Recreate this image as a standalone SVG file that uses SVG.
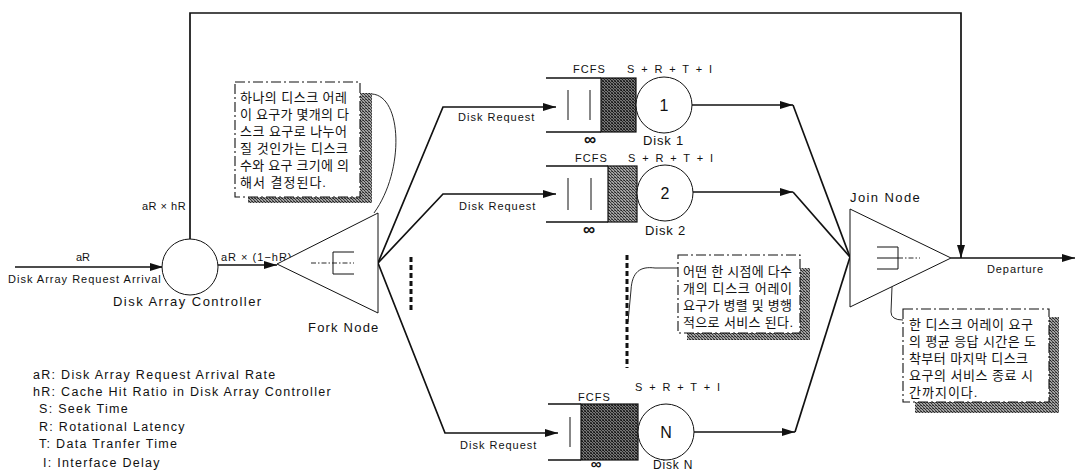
<svg xmlns="http://www.w3.org/2000/svg" width="1085" height="470" viewBox="0 0 1085 470">
<style>
text{font-family:"Liberation Sans",Arial,sans-serif;fill:#111}
.s{font-size:11px;letter-spacing:1px}
.m{font-size:13px;letter-spacing:1.3px}
.lg{font-size:12.5px;letter-spacing:1.3px}
.srt{font-size:11px;letter-spacing:1.9px}
.num{font-size:16px}
.inf{font-size:17px;font-weight:bold}
.ko{font-family:"Liberation Sans","Noto Sans CJK KR",sans-serif;font-size:13px;letter-spacing:1px}
.ln{fill:none;stroke:#111;stroke-width:1.7}
.thin{fill:none;stroke:#111;stroke-width:1}
.q{fill:none;stroke:#111;stroke-width:1.3}
.node{fill:#fff;stroke:#111;stroke-width:1}
.dd{fill:none;stroke:#111;stroke-width:0.9;stroke-dasharray:5 2 1.5 2}
.box{fill:#fff;stroke:#111;stroke-width:1.1;stroke-dasharray:10 3 2 3}
.dots{fill:none;stroke:#111;stroke-width:3;stroke-dasharray:5 3}
.call{fill:none;stroke:#111;stroke-width:0.9}
</style>
<defs>
<marker id="ah" markerWidth="13" markerHeight="8" refX="13" refY="4" orient="auto" markerUnits="userSpaceOnUse">
<path d="M0,0 L13,4 L0,8 Z" fill="#111"/>
</marker>
<pattern id="stip" width="3" height="3" patternUnits="userSpaceOnUse">
<rect width="3" height="3" fill="#a0a0a0"/>
<rect width="1" height="1" fill="#222"/>
<rect x="1" y="1" width="1" height="1" fill="#333"/>
<rect x="2" y="2" width="1" height="1" fill="#444"/>
<rect x="2" y="0" width="1" height="1" fill="#555"/>
</pattern>
<pattern id="stipd" width="3" height="3" patternUnits="userSpaceOnUse">
<rect width="3" height="3" fill="#777"/>
<rect width="1" height="1" fill="#111"/>
<rect x="1" y="1" width="1" height="1" fill="#222"/>
<rect x="2" y="2" width="1" height="1" fill="#222"/>
<rect x="2" y="0" width="1" height="1" fill="#333"/>
<rect x="0" y="2" width="1" height="1" fill="#444"/>
</pattern>
</defs>

<g id="connectors">
<path class="ln" d="M15 267 H163" marker-end="url(#ah)"/>
<path class="ln" d="M218 265 H277" marker-end="url(#ah)"/>
<path class="ln" d="M190 240 V13 H961 V258" marker-end="url(#ah)"/>
<path class="ln" d="M378 263 L443 107 H556" marker-end="url(#ah)"/>
<path class="ln" d="M378 263 L443 194 H556" marker-end="url(#ah)"/>
<path class="ln" d="M378 263 L445 433 H558" marker-end="url(#ah)"/>
<path class="ln" d="M692 105 H793" marker-end="url(#ah)"/>
<path class="ln" d="M793 105 L850 257"/>
<path class="ln" d="M693 192 H793" marker-end="url(#ah)"/>
<path class="ln" d="M793 192 L850 257"/>
<path class="ln" d="M694 432 H795" marker-end="url(#ah)"/>
<path class="ln" d="M795 432 L850 257"/>
<path class="ln" d="M951 258 H1075" marker-end="url(#ah)"/>
<path class="dots" d="M411 257 V313"/>
<path class="dots" d="M627 255 V368"/>
<path class="call" d="M372 94 C402 96 405 170 374 213"/>
<path class="call" d="M678 268 L655 268 C640 266 632 272 631 290 L628 322"/>
<path class="call" d="M892 287 L891 312 Q891 320 903 320"/>
</g>

<g id="labels">
<text class="s" x="76" y="261" style="letter-spacing:0">aR</text>
<text class="s" x="8" y="283">Disk Array Request Arrival</text>
<text class="s" x="142" y="210" style="letter-spacing:0.5px">aR × hR</text>
<text class="s" x="221" y="261">aR × (1−hR)</text>
<text class="s" x="458" y="121">Disk Request</text>
<text class="s" x="459" y="210">Disk Request</text>
<text class="s" x="460" y="449">Disk Request</text>
<text class="s" x="987" y="273" style="letter-spacing:0.9px">Departure</text>
</g>

<g id="controller">
<circle class="node" cx="190" cy="267" r="28"/>
<text class="m" x="113" y="306" style="letter-spacing:1.45px">Disk Array Controller</text>
</g>

<g id="fork">
<polygon class="node" points="277,264 378,213 378,313"/>
<path class="dd" d="M311 263 H354"/>
<path class="thin" d="M354 252 H333 V274 H354"/>
<text class="m" x="308" y="332" style="letter-spacing:1.2px">Fork Node</text>
</g>

<g id="disk1">
<path class="q" d="M546 78 H601 M546 132 H601"/>
<path class="thin" d="M568 90 V120 M590 90 V120"/>
<rect x="601" y="78" width="35" height="54" fill="url(#stipd)" stroke="#111" stroke-width="1.2"/>
<circle class="node" cx="664" cy="105" r="28"/>
<text class="num" x="664" y="111" text-anchor="middle">1</text>
<text class="s" x="573" y="73">FCFS</text>
<text class="srt" x="627" y="73">S + R + T + I</text>
<text class="inf" x="590" y="145" text-anchor="middle">∞</text>
<text class="m" x="643" y="145" style="letter-spacing:0.8px">Disk 1</text>
</g>

<g id="disk2">
<path class="q" d="M546 166 H608 M546 222 H608"/>
<path class="thin" d="M568 178 V210 M591 178 V210"/>
<rect x="608" y="166" width="29" height="56" fill="url(#stip)" stroke="#111" stroke-width="1.2"/>
<circle class="node" cx="665" cy="193" r="28"/>
<text class="num" x="665" y="199" text-anchor="middle">2</text>
<text class="s" x="575" y="162">FCFS</text>
<text class="srt" x="628" y="162">S + R + T + I</text>
<text class="inf" x="589" y="235" text-anchor="middle">∞</text>
<text class="m" x="645" y="235" style="letter-spacing:0.8px">Disk 2</text>
</g>

<g id="diskN">
<path class="q" d="M548 404 H581 M548 460 H581"/>
<path class="thin" d="M570 417 V447"/>
<rect x="581" y="404" width="57" height="56" fill="url(#stipd)" stroke="#111" stroke-width="1.2"/>
<circle class="node" cx="666" cy="432" r="28"/>
<text class="num" x="666" y="438" text-anchor="middle">N</text>
<text class="s" x="578" y="401">FCFS</text>
<text class="srt" x="635" y="391">S + R + T + I</text>
<text class="inf" x="596" y="469" text-anchor="middle" style="font-size:15px">∞</text>
<text class="m" x="653" y="469" style="font-size:12px;letter-spacing:0.8px">Disk N</text>
</g>

<g id="join">
<polygon class="node" points="850,209 850,307 951,258"/>
<path class="thin" d="M877 247 H898 V269 H877 M877 258 H898"/>
<path class="dd" d="M898 258 H920"/>
<text class="m" x="850" y="202" style="letter-spacing:1.4px">Join Node</text>
</g>

<g id="note1">
<path d="M360 93 H372 V203 H248 V197 H360 Z" fill="url(#stip)"/>
<rect class="box" x="235" y="82" width="125" height="115"/>
<text class="ko" x="240" y="102" textLength="108" lengthAdjust="spacing">하나의 디스크 어레</text>
<text class="ko" x="240" y="119" textLength="110" lengthAdjust="spacing">이 요구가 몇개의 다</text>
<text class="ko" x="240" y="136" textLength="108" lengthAdjust="spacing">스크 요구로 나누어</text>
<text class="ko" x="240" y="153" textLength="109" lengthAdjust="spacing">질 것인가는 디스크</text>
<text class="ko" x="240" y="170" textLength="110" lengthAdjust="spacing">수와 요구 크기에 의</text>
<text class="ko" x="240" y="187">해서 결정된다.</text>
</g>

<g id="note2">
<path d="M800 268 H810 V340 H687 V333 H800 Z" fill="url(#stip)"/>
<rect class="box" x="678" y="255" width="122" height="78"/>
<text class="ko" x="683" y="276" textLength="110" lengthAdjust="spacing">어떤 한 시점에 다수</text>
<text class="ko" x="683" y="293" textLength="110" lengthAdjust="spacing">개의 디스크 어레이</text>
<text class="ko" x="683" y="310" textLength="110" lengthAdjust="spacing">요구가 병렬 및 병행</text>
<text class="ko" x="683" y="327" textLength="111" lengthAdjust="spacing">적으로 서비스 된다.</text>
</g>

<g id="note3">
<path d="M1049 317 H1059 V413 H915 V402 H1049 Z" fill="url(#stip)"/>
<rect class="box" x="903" y="309" width="146" height="93"/>
<text class="ko" x="909" y="329" textLength="125" lengthAdjust="spacing">한 디스크 어레이 요구</text>
<text class="ko" x="909" y="346" textLength="128" lengthAdjust="spacing">의 평균 응답 시간은 도</text>
<text class="ko" x="909" y="363" textLength="120" lengthAdjust="spacing">착부터 마지막 디스크</text>
<text class="ko" x="909" y="380" textLength="125" lengthAdjust="spacing">요구의 서비스 종료 시</text>
<text class="ko" x="909" y="397">간까지이다.</text>
</g>

<g id="legend">
<text class="lg" x="33" y="379">aR: Disk Array Request Arrival Rate</text>
<text class="lg" x="33" y="396">hR: Cache Hit Ratio in Disk Array Controller</text>
<text class="lg" x="39" y="413">S: Seek Time</text>
<text class="lg" x="39" y="431">R: Rotational Latency</text>
<text class="lg" x="39" y="448">T: Data Tranfer Time</text>
<text class="lg" x="43" y="467">I: Interface Delay</text>
</g>
</svg>
